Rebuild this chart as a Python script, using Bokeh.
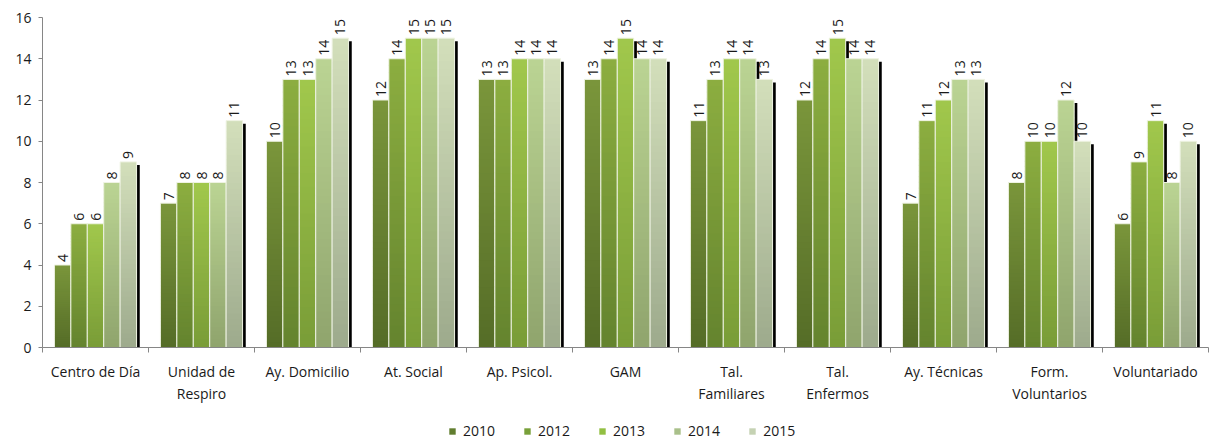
import numpy as np
from bokeh.plotting import figure
from bokeh.layouts import column
from bokeh.models import ColumnDataSource, FixedTicker, Legend, LegendItem, Range1d
from bokeh.core.properties import value
from bokeh.embed import file_html
from bokeh.resources import INLINE

categories = ["Centro de Día", "Unidad de\nRespiro", "Ay. Domicilio", "At. Social", "Ap. Psicol.",
              "GAM", "Tal.\nFamiliares", "Tal.\nEnfermos", "Ay. Técnicas", "Form.\nVoluntarios",
              "Voluntariado"]
years = ["2010", "2012", "2013", "2014", "2015"]
v2010 = [4, 7, 10, 12, 13, 13, 11, 12, 7, 8, 6]
v2012 = [6, 8, 13, 14, 13, 14, 13, 14, 11, 10, 9]
v2013 = [6, 8, 13, 15, 14, 15, 14, 15, 12, 10, 11]
v2014 = [8, 8, 14, 15, 14, 14, 14, 14, 13, 12, 8]
v2015 = [9, 11, 15, 15, 14, 14, 13, 14, 13, 10, 10]
y_ticks = [0, 2, 4, 6, 8, 10, 12, 14, 16]

series = [v2010, v2012, v2013, v2014, v2015]
# gradient colours (bottom, top) and legend colours
grad = [("#556c27", "#7a963b"), ("#64832e", "#8cae40"), ("#799c37", "#a1c84c"),
        ("#8fa46d", "#bbd493"), ("#9daa8c", "#d3dfbb")]
legend_cols = ["#617d2f", "#78a039", "#92bf43", "#a9c08a", "#c5d2b3"]

FONT = "Open Sans"
TXT = "#1a1a1a"

def hex2rgb(h):
    h = h.lstrip("#")
    return np.array([int(h[i:i + 2], 16) for i in (0, 2, 4)], dtype=float)

def rgb2hex(c):
    return "#%02x%02x%02x" % tuple(int(round(x)) for x in c)

p = figure(frame_width=1166, frame_height=330, output_backend="svg", toolbar_location=None,
           x_range=Range1d(0, len(categories)), y_range=Range1d(0, 16),
           min_border_left=42, min_border_top=17, min_border_right=2, min_border_bottom=71)
p.outline_line_color = None
p.xgrid.visible = False
p.ygrid.visible = False
p.background_fill_color = "white"

n_s = len(series)
w = 0.155
N = 40
centers = np.arange(len(categories)) + 0.5

for s, vals in enumerate(series):
    vals = np.array(vals, dtype=float)
    left = centers - n_s * w / 2 + s * w
    right = left + w
    # shadow
    p.quad(left=right, right=right + 0.03, bottom=0, top=vals - 0.15,
           fill_color="black", line_color=None)
    # gradient strips (slightly overlapping to avoid seams)
    c0, c1 = hex2rgb(grad[s][0]), hex2rgb(grad[s][1])
    L, R, B, T, C = [], [], [], [], []
    for i, v in enumerate(vals):
        for j in range(N):
            L.append(left[i]); R.append(right[i])
            B.append(v * j / N); T.append(min(v, v * (j + 1) / N + 0.06))
            C.append(rgb2hex(c0 + (c1 - c0) * (j + 0.5) / N))
    p.quad(source=ColumnDataSource(dict(l=L, r=R, b=B, t=T, c=C)),
           left="l", right="r", bottom="b", top="t", fill_color="c", line_color=None)
    # light outline
    p.quad(left=left, right=right, bottom=0, top=vals, fill_color=None,
           line_color="#eef3e2", line_width=1)
    # value labels
    p.text(x=(left + right) / 2, y=vals, text=[str(int(v)) for v in vals],
           angle=np.pi / 2, text_align="left", text_baseline="middle", y_offset=-3,
           text_font=value(FONT), text_font_size="14px", text_color=TXT)

# axes
xa = p.xaxis[0]
xa.ticker = FixedTicker(ticks=list(centers), minor_ticks=list(range(len(categories) + 1)))
xa.major_label_overrides = {float(c): lab for c, lab in zip(centers, categories)}
xa.major_tick_out = 0
xa.major_tick_in = 0
xa.minor_tick_out = 5
xa.minor_tick_in = 0
xa.minor_tick_line_color = "#868686"
xa.axis_line_color = "#868686"
xa.major_label_standoff = 9
xa.major_label_text_font = FONT
xa.major_label_text_font_size = "14px"
xa.major_label_text_color = TXT

ya = p.yaxis[0]
ya.ticker = FixedTicker(ticks=y_ticks)
ya.major_tick_out = 4
ya.major_tick_in = 0
ya.minor_tick_out = 0
ya.minor_tick_in = 0
ya.major_tick_line_color = "#868686"
ya.axis_line_color = "#868686"
ya.major_label_standoff = 7
ya.major_label_text_font = FONT
ya.major_label_text_font_size = "14px"
ya.major_label_text_color = TXT

# legend in a small separate figure below
pl = figure(width=1210, height=23, output_backend="svg", toolbar_location=None,
            x_axis_type=None, y_axis_type=None, x_range=Range1d(0, 1), y_range=Range1d(0, 1),
            min_border=0)
pl.outline_line_color = None
pl.xgrid.visible = False
pl.ygrid.visible = False
items = []
for s, yr in enumerate(years):
    # placeholder renderer (no visible mark) used only for the legend swatch
    r = pl.quad(left=[np.nan], right=[np.nan], bottom=[np.nan], top=[np.nan],
                fill_color=legend_cols[s], line_color=None)
    items.append(LegendItem(label=yr, renderers=[r]))
legend = Legend(items=items, orientation="horizontal", location=(406, 1),
                glyph_width=8, glyph_height=8, label_standoff=7, spacing=28,
                label_text_font=FONT, label_text_font_size="14px", label_text_color=TXT,
                border_line_color=None, background_fill_alpha=0, padding=2, margin=0)
pl.add_layout(legend, "center")

layout = column(p, pl, spacing=0)
open("out.html", "w").write(file_html(layout, INLINE))
